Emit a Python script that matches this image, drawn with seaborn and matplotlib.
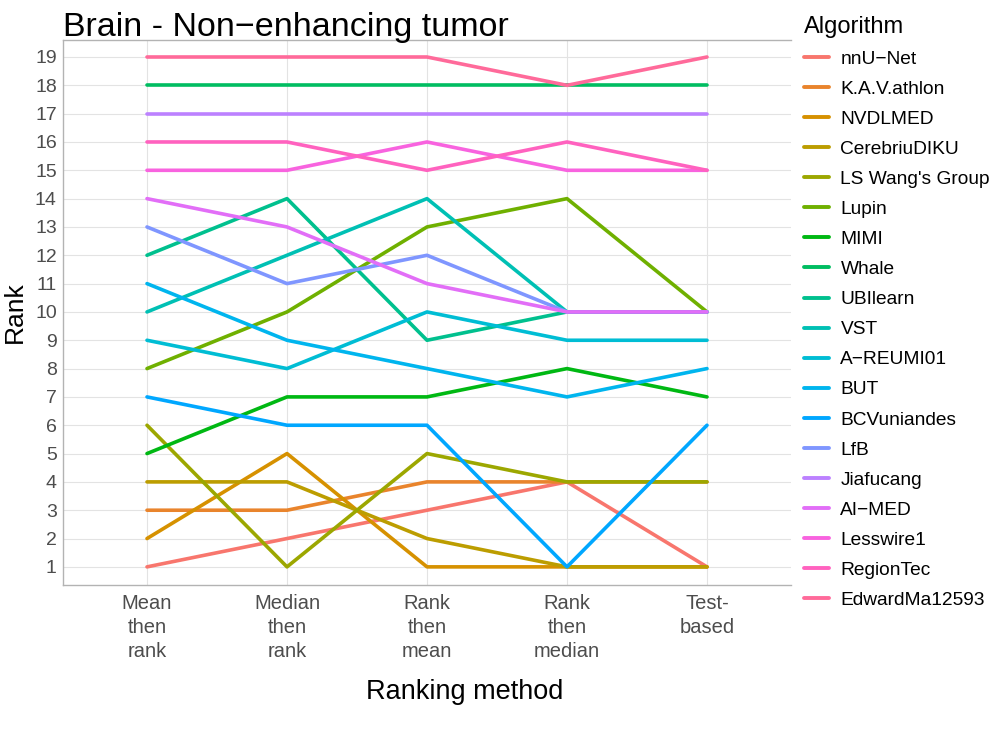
import numpy as np
import pandas as pd
import matplotlib
matplotlib.use("Agg")
import matplotlib.pyplot as plt
import seaborn as sns

sns.set_style('white')
plt.rcParams['font.family'] = ['Liberation Sans', 'DejaVu Sans']
plt.rcParams['text.color'] = 'black'
plt.rcParams['axes.labelcolor'] = 'black'

methods = ["Mean\nthen\nrank", "Median\nthen\nrank", "Rank\nthen\nmean",
           "Rank\nthen\nmedian", "Test-\nbased"]

algorithms = ["nnU\u2212Net", "K.A.V.athlon", "NVDLMED", "CerebriuDIKU",
              "LS Wang's Group", "Lupin", "MIMI", "Whale", "UBIlearn", "VST",
              "A\u2212REUMI01", "BUT", "BCVuniandes", "LfB", "Jiafucang",
              "AI\u2212MED", "Lesswire1", "RegionTec", "EdwardMa12593"]

# ranks per method: mean-then-rank, median-then-rank, rank-then-mean, rank-then-median, test-based
ranks = {
    "nnU\u2212Net":      [1, 2, 3, 4, 1],
    "K.A.V.athlon":      [3, 3, 4, 4, 4],
    "NVDLMED":           [2, 5, 1, 1, 1],
    "CerebriuDIKU":      [4, 4, 2, 1, 1],
    "LS Wang's Group":   [6, 1, 5, 4, 4],
    "Lupin":             [8, 10, 13, 14, 10],
    "MIMI":              [5, 7, 7, 8, 7],
    "Whale":             [18, 18, 18, 18, 18],
    "UBIlearn":          [12, 14, 9, 10, 10],
    "VST":               [10, 12, 14, 10, 10],
    "A\u2212REUMI01":    [9, 8, 10, 9, 9],
    "BUT":               [11, 9, 8, 7, 8],
    "BCVuniandes":       [7, 6, 6, 1, 6],
    "LfB":               [13, 11, 12, 10, 10],
    "Jiafucang":         [17, 17, 17, 17, 17],
    "AI\u2212MED":       [14, 13, 11, 10, 10],
    "Lesswire1":         [15, 15, 16, 15, 15],
    "RegionTec":         [16, 16, 15, 16, 15],
    "EdwardMa12593":     [19, 19, 19, 18, 19],
}


def hcl_hex(h, c=100, l=65):
    # polar LUV -> sRGB, same as R's hcl()
    xn, yn, zn = 95.047, 100.0, 108.883
    hr = np.radians(h)
    u_, v_ = c * np.cos(hr), c * np.sin(hr)
    y = yn * ((l + 16) / 116) ** 3 if l > 8 else yn * l / 903.3
    t = xn + yn + zn
    x0, y0 = xn / t, yn / t
    un = 2 * x0 / (6 * y0 - x0 + 1.5)
    vn = 4.5 * y0 / (6 * y0 - x0 + 1.5)
    u = u_ / (13 * l) + un
    v = v_ / (13 * l) + vn
    x = 9.0 * y * u / (4 * v)
    z = -x / 3 - 5 * y + 3 * y / v
    xyz = np.array([x, y, z]) / 100
    m = np.array([[3.240479, -1.537150, -0.498535],
                  [-0.969256, 1.875992, 0.041556],
                  [0.055648, -0.204043, 1.057311]])
    rgb = m @ xyz
    rgb = np.where(rgb > 0.00304, 1.055 * np.power(np.clip(rgb, 1e-12, None), 1 / 2.4) - 0.055, 12.92 * rgb)
    rgb = np.clip(rgb, 0, 1)
    return '#%02X%02X%02X' % tuple(int(round(v * 255)) for v in rgb)


n = len(algorithms)
palette = [hcl_hex(15 + i * 360 / n) for i in range(n)]

rows = []
for alg in algorithms:
    for j, r in enumerate(ranks[alg]):
        rows.append({"Algorithm": alg, "method": j, "Rank": r})
df = pd.DataFrame(rows)

fig = plt.figure(figsize=(9.97, 7.47), dpi=100, facecolor='white')
ax = fig.add_axes([63 / 997, 1 - 585 / 747, (791 - 63) / 997, (585 - 40) / 747])

sns.lineplot(data=df, x="method", y="Rank", hue="Algorithm", hue_order=algorithms,
             palette=palette, linewidth=2.6, ax=ax, legend=True, sort=False,
             estimator=None)

ax.set_xlim(-0.6, 4.6)
ax.set_ylim(0.36, 19.6)
ax.set_xticks(range(len(methods)))
ax.set_xticklabels(methods, fontsize=14.5, color='#4D4D4D', linespacing=1.33)
ax.set_yticks(range(1, 20))
ax.set_yticklabels([str(i) for i in range(1, 20)], fontsize=14, color='#4D4D4D')
ax.tick_params(axis='both', length=3.5, width=0.8, color='#B3B3B3', pad=1)
ax.tick_params(axis='x', pad=3)

ax.grid(True, color='#E3E3E3', linewidth=0.8)
ax.set_axisbelow(True)
for side in ['left', 'top', 'bottom']:
    ax.spines[side].set_color('#B3B3B3')
    ax.spines[side].set_linewidth(1.0)
ax.spines['right'].set_visible(False)

ax.set_xlabel("Ranking method", fontsize=19.5)
ax.xaxis.set_label_coords((465 - 63) / 728, -(692 - 585) / 545)
ax.xaxis.label.set_va('center')
ax.set_ylabel("Rank", fontsize=19, labelpad=6)
ax.set_title("Brain - Non\u2212enhancing tumor", loc='left', fontsize=24.5, pad=3, x=0.0)

handles, labels = ax.get_legend_handles_labels()
ax.get_legend().remove()
leg = fig.legend(handles, labels, title="Algorithm", loc='upper left',
                 bbox_to_anchor=(796 / 997, 1 - 8 / 747), frameon=False,
                 fontsize=13.8, title_fontsize=17, handlelength=1.3,
                 handletextpad=0.62, labelspacing=0.66, borderaxespad=0)
leg._legend_box.align = "left"
for line in leg.get_lines():
    line.set_linewidth(2.8)

fig.savefig("out.png", dpi=100, facecolor='white')
